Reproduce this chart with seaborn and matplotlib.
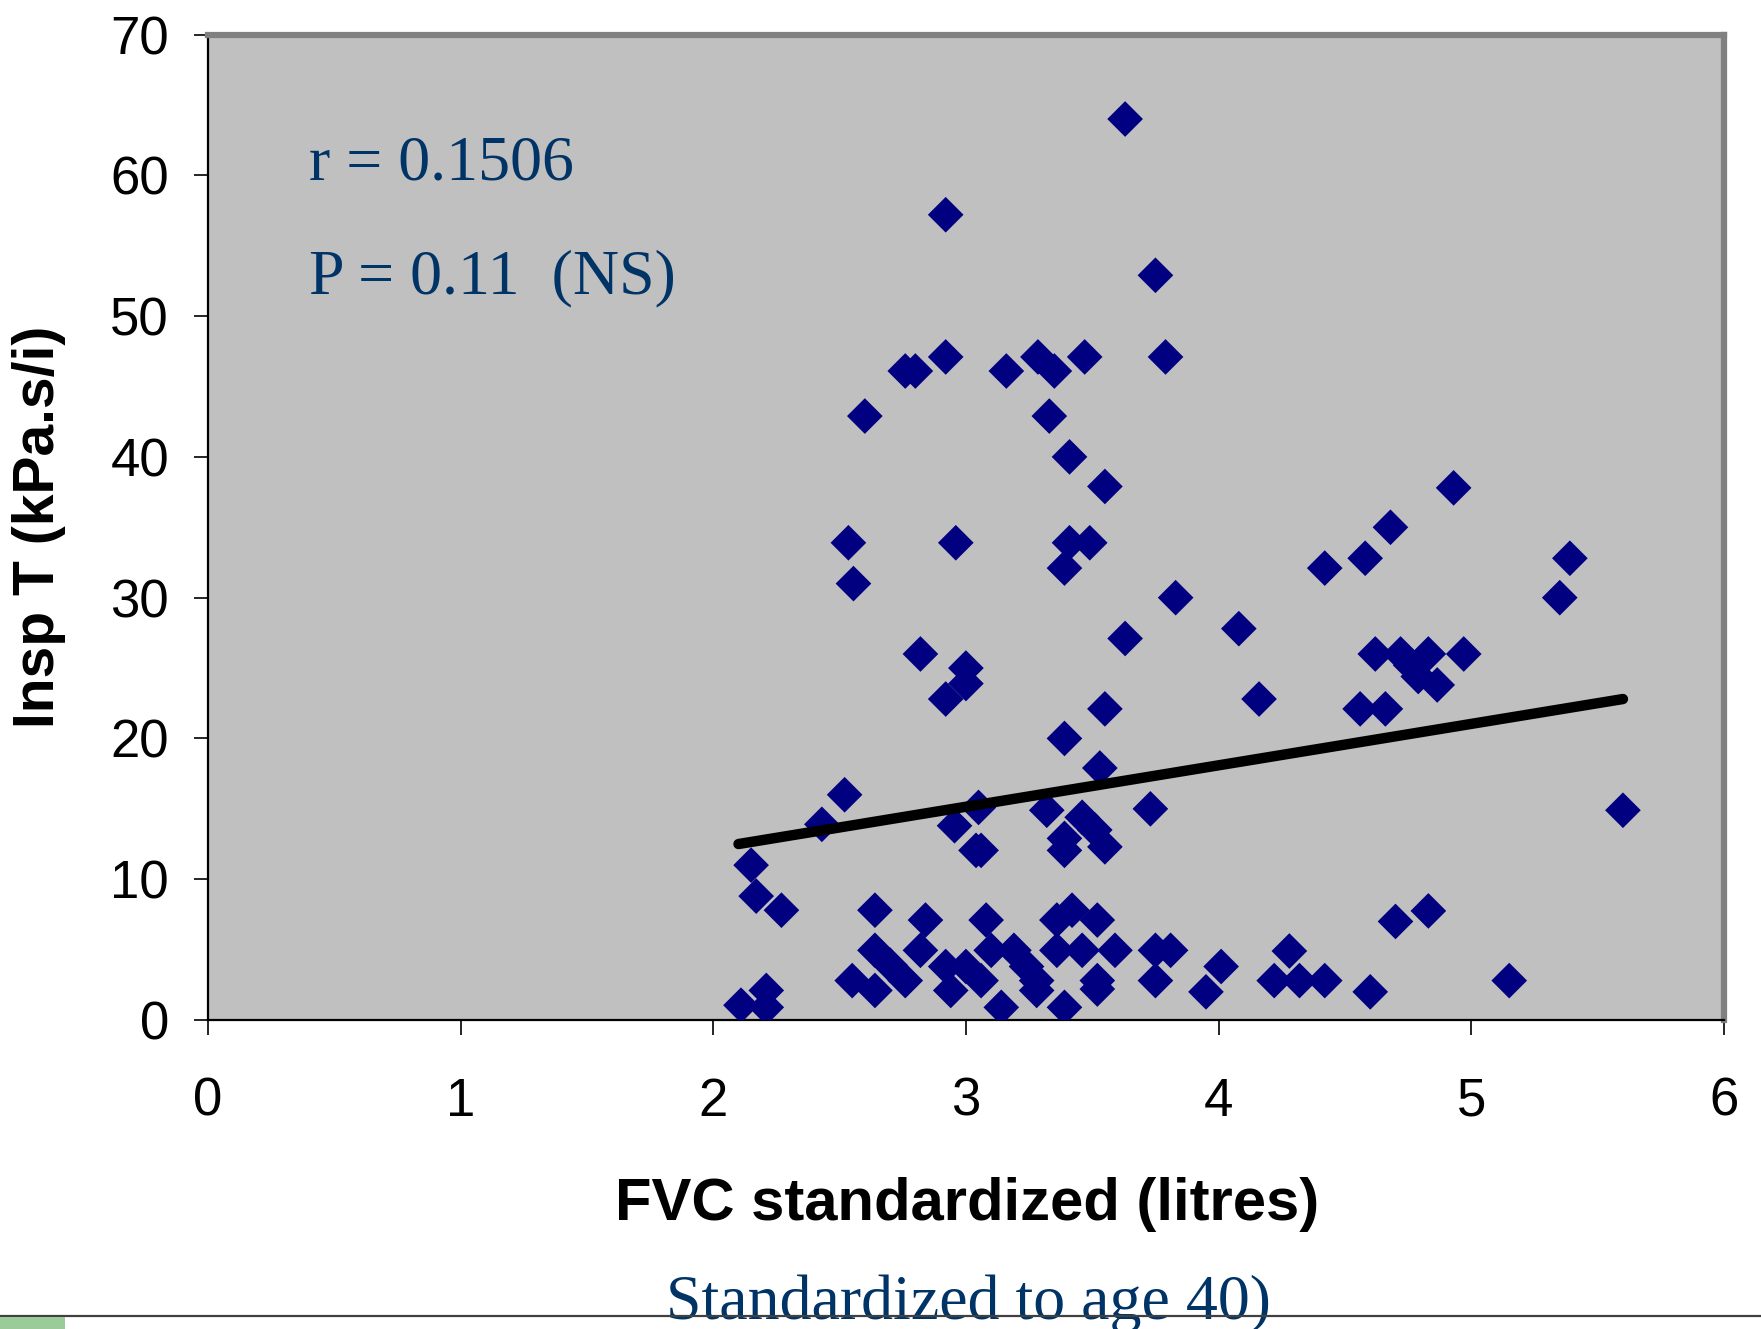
import numpy as np
import pandas as pd
import matplotlib
matplotlib.use("Agg")
import matplotlib.pyplot as plt
import seaborn as sns
from matplotlib import font_manager
from matplotlib.lines import Line2D
from matplotlib.patches import Rectangle

# ---------------- data ----------------
fvc = [
    3.63, 2.92, 3.75, 2.76, 2.80, 2.92, 3.16, 3.285, 3.35, 3.47, 3.79, 2.60, 3.33, 3.41, 3.55,
    2.535, 2.555, 2.96, 3.41, 3.49, 3.39, 3.83, 3.63, 2.82, 3.00, 3.00, 2.92, 3.55, 3.39, 3.53,
    4.93, 4.68, 4.58, 4.42, 5.39, 5.35, 4.08, 4.62, 4.72, 4.83, 4.97, 4.76, 4.79, 4.865, 4.16,
    4.56, 4.66, 5.60, 4.70, 4.83, 5.15, 4.60, 4.42, 4.32, 4.22, 4.28, 4.01, 3.95,
    2.15, 2.17, 2.27, 2.11, 2.21, 2.21, 2.43, 2.52, 2.64, 2.55, 2.64, 2.64, 2.70, 2.76, 2.84,
    2.82, 2.92, 2.94, 3.00, 3.06, 3.08, 3.10, 3.14, 3.19, 3.24, 3.28, 3.28, 3.39, 3.36, 3.42,
    3.52, 3.36, 3.46, 3.52, 3.52, 3.59, 3.75, 3.81, 3.75,
    3.05, 2.955, 3.04, 3.06, 3.32, 3.39, 3.39, 3.46, 3.51, 3.55, 3.73,
]
insp_t = [
    64.0, 57.2, 52.9, 46.1, 46.1, 47.1, 46.1, 47.1, 46.1, 47.1, 47.1, 42.9, 42.9, 40.0, 37.9,
    33.9, 31.0, 33.9, 33.9, 33.9, 32.1, 30.0, 27.1, 26.0, 25.0, 23.9, 22.8, 22.1, 20.0, 17.9,
    37.8, 35.0, 32.8, 32.1, 32.8, 30.0, 27.8, 26.0, 26.0, 26.0, 26.0, 25.2, 24.4, 23.8, 22.8,
    22.1, 22.1, 14.9, 7.0, 7.75, 2.8, 2.0, 2.8, 2.8, 2.8, 4.9, 3.8, 2.0,
    11.0, 8.8, 7.8, 1.05, 2.1, 0.9, 13.9, 16.0, 7.8, 2.8, 2.1, 4.95, 3.9, 2.8, 7.1,
    4.95, 3.8, 2.1, 3.8, 2.8, 7.1, 4.95, 0.9, 4.95, 3.8, 2.8, 2.1, 0.9, 7.1, 7.8,
    7.1, 4.95, 4.95, 2.8, 2.2, 4.95, 4.95, 4.95, 2.8,
    15.1, 13.8, 12.05, 12.05, 14.9, 12.9, 12.05, 14.4, 13.5, 12.3, 15.0,
]
trend_x = [2.10, 5.60]
trend_y = [12.5, 22.8]

x_ticks = [0, 1, 2, 3, 4, 5, 6]
y_ticks = [0, 10, 20, 30, 40, 50, 60, 70]

stat_lines = ["r = 0.1506", "P = 0.11  (NS)"]
x_label = "FVC standardized (litres)"
y_label = "Insp T (kPa.s/i)"
sub_caption = "Standardized to age 40)"

df = pd.DataFrame({"fvc": fvc, "insp": insp_t})
trend = pd.DataFrame({"x": trend_x, "y": trend_y})

# ---------------- styling ----------------
sns.set_theme(style="white")
avail = {f.name for f in font_manager.fontManager.ttflist}
sans = "Liberation Sans" if "Liberation Sans" in avail else "DejaVu Sans"
serif = "Liberation Serif" if "Liberation Serif" in avail else "DejaVu Serif"
plt.rcParams["font.family"] = [sans, "DejaVu Sans"]

fig = plt.figure(figsize=(17.61, 13.29), dpi=100)
ax = fig.add_axes([0.118, 0.2325, 0.861, 0.7415])
ax.set_facecolor("#C0C0C0")

sns.scatterplot(data=df, x="fvc", y="insp", marker="D", s=330, color="#000080",
                edgecolor="none", linewidth=0, ax=ax, zorder=3)
sns.lineplot(data=trend, x="x", y="y", color="black", linewidth=7.5,
             solid_capstyle="round", ax=ax, zorder=4)

ax.set_xlim(0, 6)
ax.set_ylim(0, 70)
ax.set_xticks(x_ticks)
ax.set_yticks(y_ticks)
ax.set_xticklabels([str(v) for v in x_ticks])
ax.set_yticklabels([str(v) for v in y_ticks])
ax.tick_params(axis="x", direction="out", length=11, width=1.2, color="black",
               labelcolor="black", labelsize=38, pad=30, bottom=True)
ax.tick_params(axis="y", direction="out", length=10, width=1.2, color="black",
               labelcolor="black", labelsize=38, pad=18, left=True)

for side in ("left", "bottom"):
    ax.spines[side].set_color("black")
    ax.spines[side].set_linewidth(1.6)
for side in ("top", "right"):
    ax.spines[side].set_color("#808080")
    ax.spines[side].set_linewidth(4.5)

ax.set_xlabel(x_label, fontsize=43, fontweight="bold", color="black")
ax.set_ylabel(y_label, fontsize=41, fontweight="bold", color="black")
ax.xaxis.label.set_va("center")
ax.yaxis.label.set_va("center")
ax.xaxis.set_label_coords(0.501, -0.187)
ax.yaxis.set_label_coords(-0.1115, 0.5)

txt_color = "#003366"
ax.text(0.40, 60.8, stat_lines[0], fontsize=46, color=txt_color,
        family=[serif, "DejaVu Serif"], va="center", ha="left", zorder=5)
ax.text(0.40, 52.7, stat_lines[1], fontsize=46, color=txt_color,
        family=[serif, "DejaVu Serif"], va="center", ha="left", zorder=5)

fig.text(0.5497, 1 - 1304 / 1329, sub_caption, fontsize=46, color=txt_color,
         family=[serif, "DejaVu Serif"], ha="center", va="center")

# bottom rule and green block
fig.add_artist(Line2D([0, 1], [1 - 1316 / 1329] * 2, transform=fig.transFigure,
                      color="#404040", linewidth=1.6, zorder=10))
fig.add_artist(Rectangle((0, 0), 65 / 1761, 12 / 1329, transform=fig.transFigure,
                         facecolor="#99CC99", edgecolor="none", zorder=10))

fig.savefig("out.png", dpi=100)
